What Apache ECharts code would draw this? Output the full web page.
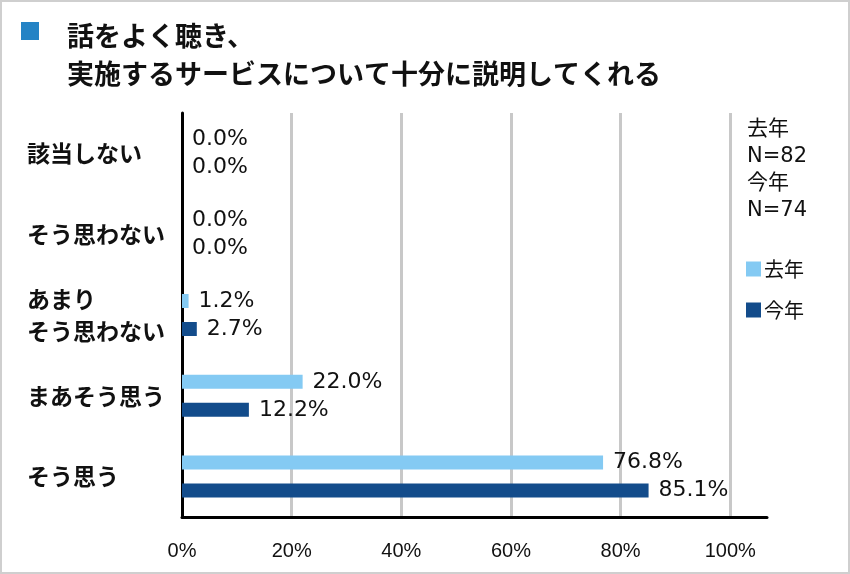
<!DOCTYPE html>
<html><head><meta charset="utf-8">
<script src="https://cdn.jsdelivr.net/npm/echarts@6/dist/echarts.min.js"></script>
<style>html,body{margin:0;padding:0;background:#fff}#c{width:850px;height:574px}</style>
</head><body><div id="c"></div>
<script>
const categories = ['該当しない', 'そう思わない', 'あまり\nそう思わない', 'まあそう思う', 'そう思う'];
const lastYear = [0.0, 0.0, 1.2, 22.0, 76.8];
const thisYear = [0.0, 0.0, 2.7, 12.2, 85.1];
const seriesNames = ['去年', '今年'];
const xTicks = [0, 20, 40, 60, 80, 100];
const titleLines = ['話をよく聴き、', '実施するサービスについて十分に説明してくれる'];
const noteLines = ['去年', 'N=82', '今年', 'N=74'];

const FONT = '"Liberation Sans", "Noto Sans CJK JP", sans-serif';
const NUMFONT = '"DejaVu Sans", "Noto Sans CJK JP", sans-serif';
const CJK = '"Noto Sans CJK JP", sans-serif';
const chart = echarts.init(document.getElementById('c'), null, {renderer: 'canvas'});
const lbl = {show: true, position: 'right', distance: 10, color: '#111', fontSize: 22, fontFamily: NUMFONT,
  formatter: p => p.value.toFixed(1) + '%'};
chart.setOption({
  backgroundColor: '#fff',
  animation: false,
  title: {
    text: titleLines.join('\n'), left: 67, top: 17, padding: 0,
    textStyle: {fontSize: 27, fontWeight: 'bold', color: '#111', fontFamily: CJK, lineHeight: 38}
  },
  graphic: [
    {type: 'rect', shape: {x: 1, y: 1, width: 848, height: 572}, style: {fill: 'none', stroke: '#cfcfcf', lineWidth: 2}, silent: true},
    {type: 'rect', shape: {x: 21, y: 22, width: 18, height: 18}, style: {fill: '#2483C5'}},
    {type: 'text', left: 747, top: 116, style: {text: noteLines.join('\n'), fontSize: 21, lineHeight: 27, fill: '#111', fontFamily: NUMFONT}}
  ],
  legend: {
    orient: 'vertical', left: 741, top: 254, itemWidth: 15, itemHeight: 15, itemGap: 21,
    icon: 'rect', data: seriesNames,
    textStyle: {fontSize: 20, color: '#111', fontFamily: CJK, padding: [0, 0, 0, -2]}
  },
  grid: {left: 182, right: 83, top: 113, bottom: 57, containLabel: false},
  xAxis: {
    type: 'value', min: 0, max: 106.7, interval: 20,
    axisLine: {show: true, lineStyle: {color: '#000', width: 3}},
    axisTick: {show: false},
    splitLine: {show: true, showMaxLine: false, showMinLine: false, lineStyle: {color: '#c8c8c8', width: 3}},
    axisLabel: {fontSize: 20, color: '#111', fontFamily: FONT, margin: 24,
      formatter: v => xTicks.includes(Math.round(v * 100) / 100) ? v + '%' : ''}
  },
  yAxis: {
    type: 'category', data: categories, inverse: true,
    axisLine: {show: true, lineStyle: {color: '#000', width: 3}},
    axisTick: {show: false},
    axisLabel: {align: 'left', margin: 155, fontSize: 23, fontWeight: 'bold', color: '#111', fontFamily: CJK, lineHeight: 32}
  },
  series: [
    {name: seriesNames[0], type: 'bar', data: lastYear, barWidth: 14, barGap: '100%', itemStyle: {color: '#84CAF3'}, label: lbl},
    {name: seriesNames[1], type: 'bar', data: thisYear, barWidth: 14, itemStyle: {color: '#134C8B'}, label: lbl}
  ]
});
</script></body></html>
